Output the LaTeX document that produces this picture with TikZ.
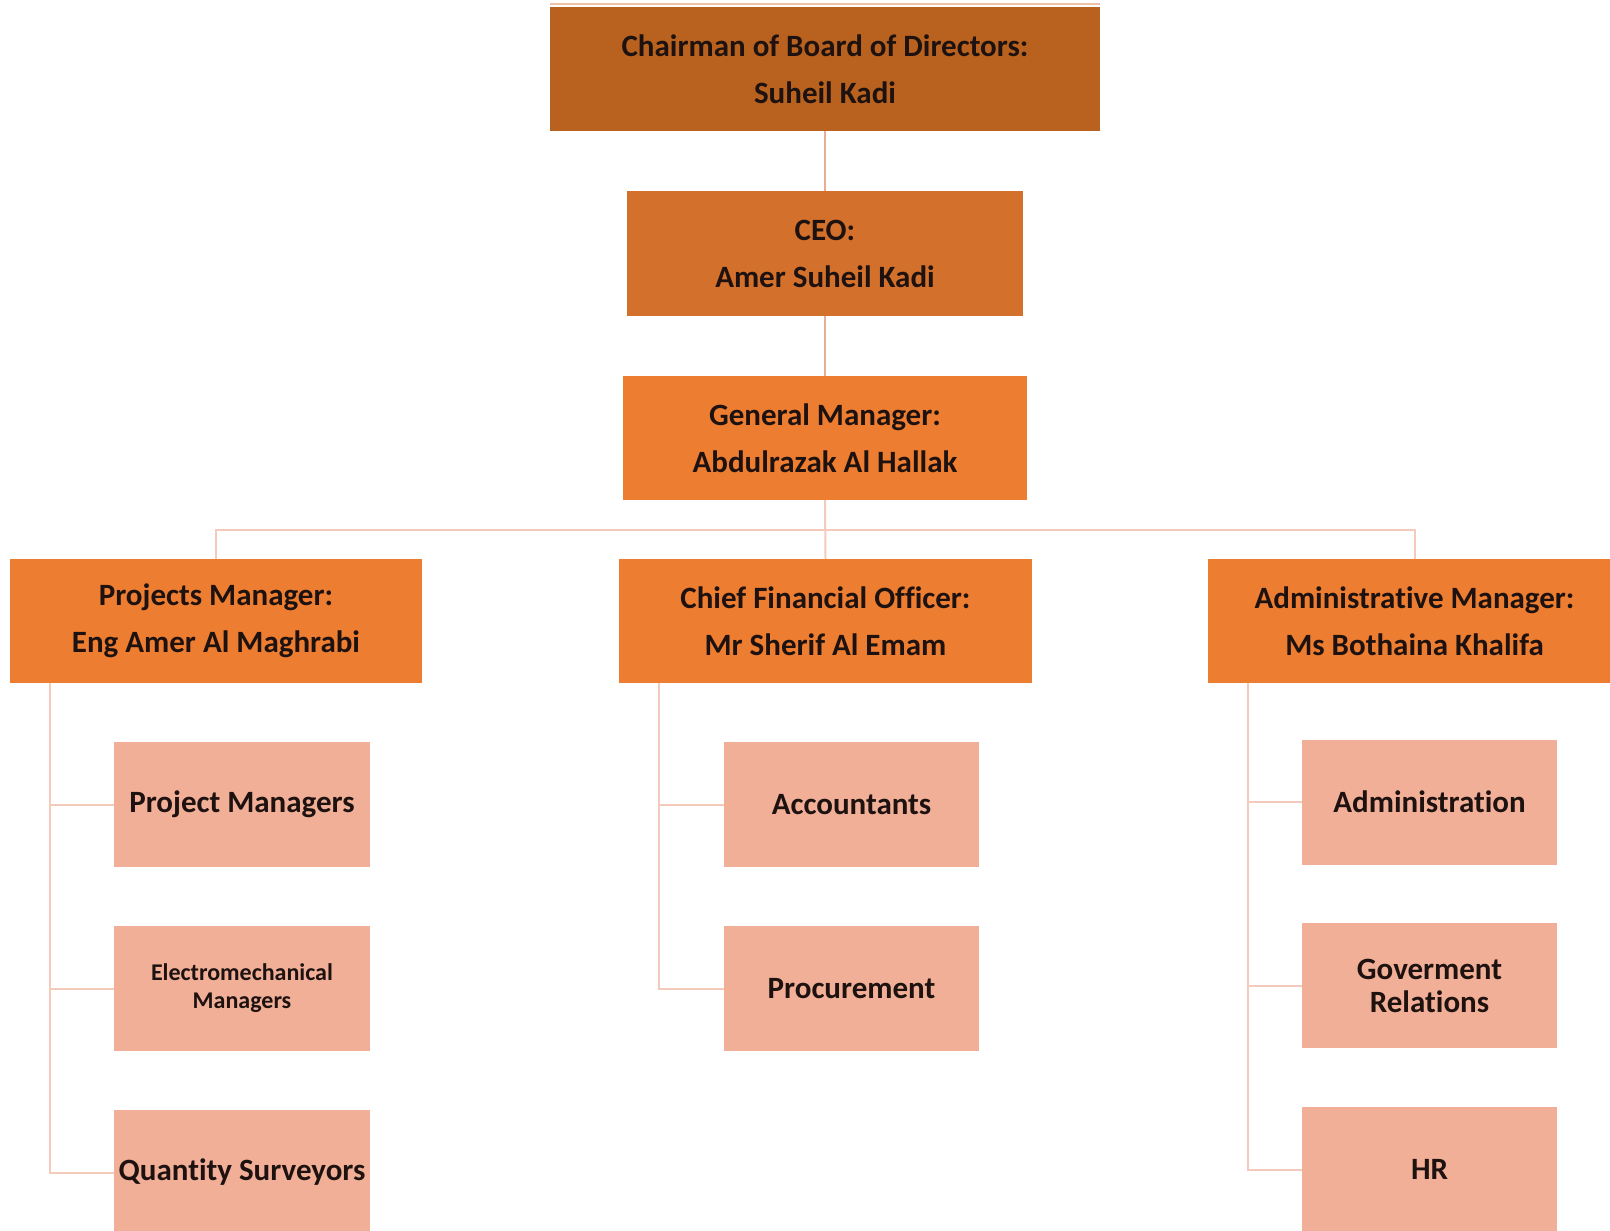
\documentclass[tikz,border=0pt]{standalone}
\usepackage{fontspec}
\setmainfont{Carlito}[Ligatures=NoCommon]
\definecolor{chairc}{HTML}{B9621F}
\definecolor{ceoc}{HTML}{D3702B}
\definecolor{mgrc}{HTML}{ED7D31}
\definecolor{subc}{HTML}{F0AF96}
\definecolor{linec}{HTML}{F4CBBB}
\definecolor{toplinec}{HTML}{E8AE96}
\definecolor{edgec}{HTML}{EDC2A8}
\definecolor{txtc}{HTML}{1E1210}
\begin{document}
\begin{tikzpicture}[x=1pt,y=-1pt,
  box/.style={rectangle,inner sep=0pt,align=center,text=txtc,
    font=\bfseries\fontsize{31}{47}\selectfont},
  topbox/.style={box,minimum height=124pt},
  subbox/.style={box,fill=subc,minimum width=256pt,minimum height=125pt},
  conn/.style={draw=linec,line width=2pt},
  topconn/.style={draw=toplinec,line width=2pt}]
\useasboundingbox[fill=white] (0,0) rectangle (1610,1231);
% top chain
\node[topbox,fill=chairc,minimum width=550pt] (chair) at (825,69) {Chairman of Board of Directors:\\Suheil Kadi};
\node[topbox,fill=ceoc,minimum width=396pt,minimum height=125pt] (ceo) at (825,253.5) {CEO:\\Amer Suheil Kadi};
\node[topbox,fill=mgrc,minimum width=404pt] (gm) at (825,438) {General Manager:\\Abdulrazak Al Hallak};
% level 3
\node[topbox,fill=mgrc,minimum width=412pt] (pm) at (216,621) {Projects Manager:\\Eng Amer Al Maghrabi};
\node[topbox,fill=mgrc,minimum width=413pt] (cfo) at (825.5,621) {Chief Financial Officer:\\Mr Sherif Al Emam};
\node[topbox,fill=mgrc,minimum width=413pt] (am) at (1414.5,621) {Administrative Manager:\\Ms Bothaina Khalifa};
% sub boxes
\node[subbox] (pm1) at (242,804.5) {Project Managers};
\node[subbox,font=\bfseries\fontsize{24}{28}\selectfont] (pm2) at (242,988.5) {Electromechanical\\Managers};
\node[subbox] (pm3) at (242,1172.5) {Quantity Surveyors};
\node[subbox,minimum width=255pt] (cf1) at (851.5,804.5) {Accountants};
\node[subbox,minimum width=255pt] (cf2) at (851.5,988.5) {Procurement};
\node[subbox,minimum width=255pt] (am1) at (1429.5,802) {Administration};
\node[subbox,minimum width=255pt,font=\bfseries\fontsize{31}{33}\selectfont] (am2) at (1429.5,985.5) {Goverment\\Relations};
\node[subbox,minimum width=255pt] (am3) at (1429.5,1169.5) {HR};
% thin light edge above the chairman box
\draw[draw=edgec,line width=2.5pt] ([yshift=3pt]chair.north west) -- ([yshift=3pt]chair.north east);
% connectors
\draw[topconn] (chair.south) -- (ceo.north);
\draw[topconn] (ceo.south) -- (gm.north);
\draw[conn] (gm.south) -- (cfo.north);
\draw[conn] (gm.south) -- ++(0,30) -| (pm.north);
\draw[conn] (gm.south) -- ++(0,30) -| (am.north);
\foreach \c in {pm1,pm2,pm3}{\draw[conn] ([xshift=40pt]pm.south west) |- (\c.west);}
\foreach \c in {cf1,cf2}{\draw[conn] ([xshift=40pt]cfo.south west) |- (\c.west);}
\foreach \c in {am1,am2,am3}{\draw[conn] ([xshift=40pt]am.south west) |- (\c.west);}
\end{tikzpicture}
\end{document}
